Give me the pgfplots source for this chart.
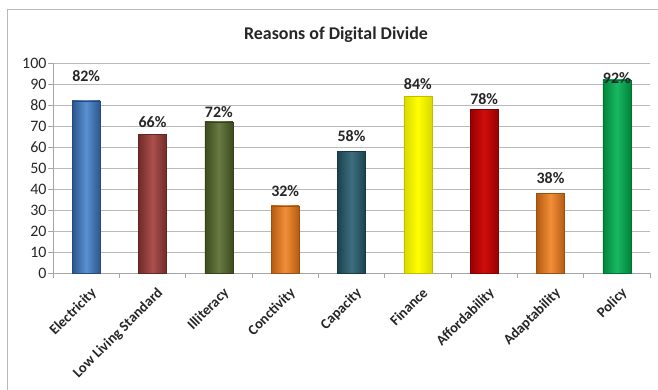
\documentclass[border=0pt]{standalone}
\usepackage{pgfplots}
\pgfplotsset{compat=1.18}
\usepackage{fontspec}
\setmainfont{Carlito}
\definecolor{c1}{HTML}{3D7CC9}
\definecolor{c2}{HTML}{A23D3A}
\definecolor{c3}{HTML}{586B2D}
\definecolor{c4}{HTML}{F07A16}
\definecolor{c5}{HTML}{275F70}
\definecolor{c6}{HTML}{FFFF00}
\definecolor{c7}{HTML}{CC0000}
\definecolor{c8}{HTML}{F07A16}
\definecolor{c9}{HTML}{00B050}
\definecolor{txt}{HTML}{262626}
\begin{document}
\begin{tikzpicture}
\useasboundingbox (0,0) rectangle (658bp,390bp);
\draw[draw=gray!55, line width=1bp] (7bp,-20bp) rectangle (690bp,380bp);
\node[font=\fontsize{18}{21}\selectfont\bfseries, text=txt] at (336bp,355bp) {Reasons of Digital Divide};
\begin{axis}[
  at={(53bp,117bp)}, anchor=south west,
  scale only axis, width=597bp, height=210bp,
  xmin=0.5, xmax=9.5, ymin=0, ymax=100,
  axis x line*=left, axis y line*=left,
  axis line style={draw=gray!70, line width=0.8bp},
  ytick={0,10,...,100}, minor ytick={0,10,...,100},
  xtick={1,...,9},
  xticklabels={Electricity,Low Living Standard,Illiteracy,Conctivity,Capacity,Finance,Affordability,Adaptability,Policy},
  minor xtick={0.5,1.5,...,9.5},
  major tick length=0pt, minor tick length=5bp, tick align=outside,
  minor tick style={draw=gray!70, line width=0.8bp},
  ymajorgrids, grid style={draw=gray!55, line width=0.8bp},
  /pgf/number format/assume math mode=true,
  yticklabel style={font=\fontsize{16}{18}\selectfont, text=txt, xshift=-3bp},
  xticklabel style={font=\fontsize{14.5}{16}\selectfont\bfseries, text=txt, rotate=45, anchor=north east, inner sep=1bp, xshift=-6bp, yshift=-11bp},
  ybar, bar width=28bp, bar shift=0pt,
  nodes near coords={\pgfmathprintnumber{\pgfplotspointmeta}\%},
  every node near coord/.append style={font=\fontsize{16}{18}\selectfont\bfseries, text=txt, inner sep=0pt, anchor=south},
  clip=false,
]
\addplot[ybar, left color=c1!70!black, right color=c1!70!black, middle color=c1!85!white, draw=c1!60!black, every node near coord/.append style={yshift=19bp}] coordinates {(1,82)};
\addplot[ybar, left color=c2!70!black, right color=c2!70!black, middle color=c2!90!white, draw=c2!60!black, every node near coord/.append style={yshift=7bp}] coordinates {(2,66)};
\addplot[ybar, left color=c3!70!black, right color=c3!70!black, middle color=c3!90!white, draw=c3!60!black, every node near coord/.append style={yshift=4bp}] coordinates {(3,72)};
\addplot[ybar, left color=c4!75!black, right color=c4!75!black, middle color=c4!85!white, draw=c4!65!black, every node near coord/.append style={yshift=9bp}] coordinates {(4,32)};
\addplot[ybar, left color=c5!70!black, right color=c5!70!black, middle color=c5!90!white, draw=c5!60!black, every node near coord/.append style={yshift=9bp}] coordinates {(5,58)};
\addplot[ybar, left color=c6!85!black, right color=c6!85!black, middle color=c6, draw=c6!75!black, every node near coord/.append style={yshift=7bp}] coordinates {(6,84)};
\addplot[ybar, left color=c7!75!black, right color=c7!75!black, middle color=c7!95!white, draw=c7!65!black, every node near coord/.append style={yshift=4bp}] coordinates {(7,78)};
\addplot[ybar, left color=c8!75!black, right color=c8!75!black, middle color=c8!85!white, draw=c8!65!black, every node near coord/.append style={yshift=9bp}] coordinates {(8,38)};
\addplot[ybar, left color=c9!75!black, right color=c9!75!black, middle color=c9!90!white, draw=c9!65!black, every node near coord/.append style={yshift=-4bp}] coordinates {(9,92)};
\end{axis}
\end{tikzpicture}
\end{document}
